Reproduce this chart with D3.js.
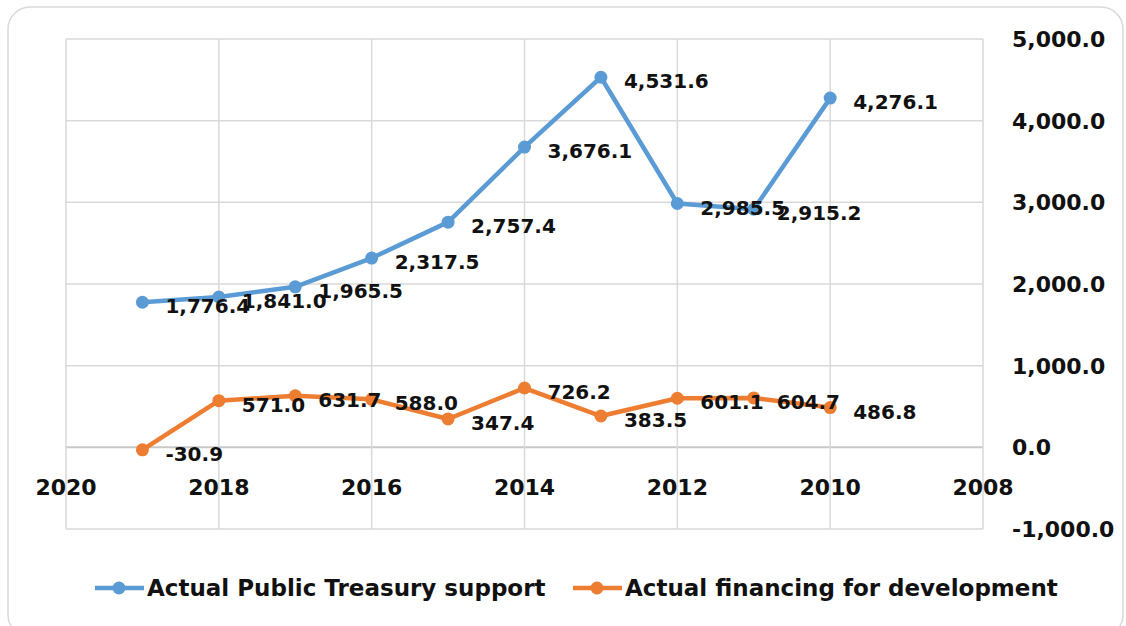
<!DOCTYPE html>
<html>
<head>
<meta charset="utf-8">
<script src="https://cdn.jsdelivr.net/npm/d3@7"></script>
<style>
  body { margin: 0; background: #fff; }
  text { font-family: "DejaVu Sans", sans-serif; font-weight: bold; fill: #111; }
</style>
</head>
<body>
<div id="chart"></div>
<script>
var years = [2019, 2018, 2017, 2016, 2015, 2014, 2013, 2012, 2011, 2010];
var treasury = [1776.4, 1841.0, 1965.5, 2317.5, 2757.4, 3676.1, 4531.6, 2985.5, 2915.2, 4276.1];
var financing = [-30.9, 571.0, 631.7, 588.0, 347.4, 726.2, 383.5, 601.1, 604.7, 486.8];
var xTicks = [2020, 2018, 2016, 2014, 2012, 2010, 2008];
var yTicks = [-1000, 0, 1000, 2000, 3000, 4000, 5000];
var seriesNames = ["Actual Public Treasury support", "Actual financing for development"];
var colors = ["#5b9bd5", "#ed7d31"];

var width = 1126, height = 626;
var svg = d3.select("#chart").append("svg")
    .attr("width", width)
    .attr("height", height);

// outer frame
svg.append("rect")
    .attr("x", 8).attr("y", 7)
    .attr("width", 1115).attr("height", 630)
    .attr("rx", 22)
    .attr("fill", "#fff")
    .attr("stroke", "#d9d9d9")
    .attr("stroke-width", 1.5);

var x = d3.scaleLinear().domain([2020, 2008]).range([66, 983]);
var y = d3.scaleLinear().domain([-1000, 5000]).range([529, 39]);
var fmt = d3.format(",.1f");
var numFmt = function(v) { return fmt(v).replace("\u2212", "-"); };

// gridlines
svg.append("g").selectAll("line").data(yTicks).enter().append("line")
    .attr("x1", x(2020)).attr("x2", x(2008))
    .attr("y1", function(d) { return y(d); })
    .attr("y2", function(d) { return y(d); })
    .attr("stroke", function(d) { return d === 0 ? "#c8c8c8" : "#d9d9d9"; })
    .attr("stroke-width", function(d) { return d === 0 ? 2 : 1.5; });
svg.append("g").selectAll("line").data(xTicks).enter().append("line")
    .attr("x1", function(d) { return x(d); })
    .attr("x2", function(d) { return x(d); })
    .attr("y1", y(5000)).attr("y2", y(-1000))
    .attr("stroke", "#d9d9d9")
    .attr("stroke-width", 1.5);

// y axis labels (right side)
svg.append("g").selectAll("text").data(yTicks).enter().append("text")
    .attr("x", 1012)
    .attr("y", function(d) { return y(d) + 8; })
    .attr("font-size", 22)
    .text(function(d) { return numFmt(d); });

// x axis labels sit on the zero line
svg.append("g").selectAll("text").data(xTicks).enter().append("text")
    .attr("x", function(d) { return x(d); })
    .attr("y", y(0) + 48)
    .attr("text-anchor", "middle")
    .attr("font-size", 22)
    .text(function(d) { return d; });

var line = d3.line()
    .x(function(d) { return x(d[0]); })
    .y(function(d) { return y(d[1]); });

[treasury, financing].forEach(function(vals, k) {
    var pts = years.map(function(yr, i) { return [yr, vals[i]]; });
    var g = svg.append("g");
    g.append("path")
        .datum(pts)
        .attr("d", line)
        .attr("fill", "none")
        .attr("stroke", colors[k])
        .attr("stroke-width", 4.5)
        .attr("stroke-linejoin", "round");
    g.selectAll("circle").data(pts).enter().append("circle")
        .attr("cx", function(d) { return x(d[0]); })
        .attr("cy", function(d) { return y(d[1]); })
        .attr("r", 6.5)
        .attr("fill", colors[k]);
    g.selectAll("text").data(pts).enter().append("text")
        .attr("x", function(d) { return x(d[0]) + 23; })
        .attr("y", function(d) { return y(d[1]) + 11; })
        .attr("font-size", 20)
        .text(function(d) { return numFmt(d[1]); });
});

// legend
var legendX = [95, 573];
seriesNames.forEach(function(name, k) {
    var lg = svg.append("g").attr("transform", "translate(" + legendX[k] + ",588)");
    lg.append("line")
        .attr("x1", 0).attr("x2", 49)
        .attr("stroke", colors[k]).attr("stroke-width", 4.5);
    lg.append("circle").attr("cx", 24).attr("r", 6.5).attr("fill", colors[k]);
    lg.append("text")
        .attr("x", 52).attr("y", 8)
        .attr("font-size", 23)
        .text(name);
});
</script>
</body>
</html>
